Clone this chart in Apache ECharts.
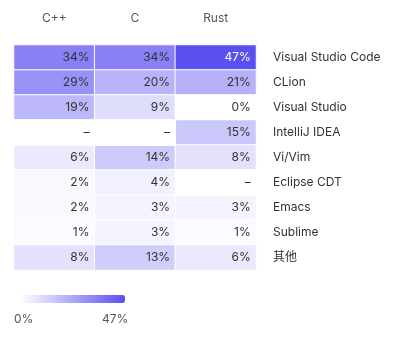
<!DOCTYPE html>
<html>
<head>
<meta charset="utf-8">
<script src="https://cdn.jsdelivr.net/npm/echarts@6/dist/echarts.min.js"></script>
<style>
  html, body { margin: 0; padding: 0; background: #fff; }
  #chart { width: 398px; height: 340px; }
</style>
</head>
<body>
<div id="chart"></div>
<script>
// 语言（列）与编辑器（行）
const languages = ['C++', 'C', 'Rust']
const editors = ['Visual Studio Code', 'CLion', 'Visual Studio', 'IntelliJ IDEA', 'Vi/Vim', 'Eclipse CDT', 'Emacs', 'Sublime', '其他']
// 每列的百分比，null 表示没有数据（显示为 –）
const cppValues = [34, 29, 19, null, 6, 2, 2, 1, 8]
const cValues = [34, 20, 9, null, 14, 4, 3, 3, 13]
const rustValues = [47, 21, 0, 15, 8, null, 3, 1, 6]
const rangeLabels = ['0%', '47%']

const columns = [cppValues, cValues, rustValues]
const cells = []
const missing = []
columns.forEach((col, x) => {
  col.forEach((v, y) => {
    if (v === null) missing.push([x, y, 0])
    else cells.push([x, y, v])
  })
})

const font = 'Inter, "Noto Sans CJK SC", sans-serif'
const myChart = echarts.init(document.getElementById('chart'))
const option = {
  textStyle: { fontFamily: font },
  grid: { left: 14, right: 142, top: 45, bottom: 70 },
  xAxis: {
    type: 'category',
    data: languages,
    position: 'top',
    axisLine: { show: false },
    axisTick: { show: false },
    axisLabel: { color: '#555', fontSize: 12, margin: 21, fontFamily: font }
  },
  yAxis: {
    type: 'category',
    data: editors,
    inverse: true,
    position: 'right',
    axisLine: { show: false },
    axisTick: { show: false },
    axisLabel: { color: '#333', fontSize: 12, margin: 17, fontFamily: font }
  },
  visualMap: {
    type: 'continuous',
    min: 0,
    max: 47,
    seriesIndex: 0,
    orient: 'horizontal',
    left: 6,
    top: 280,
    itemWidth: 8,
    itemHeight: 104,
    calculable: false,
    text: ['', ''],
    showLabel: false,
    inRange: { color: ['#ffffff', '#5a4ff0'] }
  },
  graphic: [
    { type: 'text', left: 14, top: 313, style: { text: rangeLabels[0], fill: '#555', font: '12px ' + font } },
    { type: 'text', left: 102, top: 313, style: { text: rangeLabels[1], fill: '#555', font: '12px ' + font } }
  ],
  series: [
    {
      type: 'heatmap',
      data: cells,
      itemStyle: { borderColor: '#fff', borderWidth: 1 },
      label: {
        show: true,
        position: 'insideRight',
        distance: 6,
        fontSize: 12,
        fontFamily: font,
        color: '#333',
        formatter: p => p.value[2] + '%'
      },
      emphasis: { disabled: true }
    },
    {
      type: 'heatmap',
      data: missing,
      itemStyle: { color: '#fff', borderColor: '#fff', borderWidth: 1 },
      label: {
        show: true,
        position: 'insideRight',
        distance: 6,
        fontSize: 12,
        fontFamily: font,
        color: '#333',
        formatter: '–'
      },
      emphasis: { disabled: true }
    }
  ]
}
myChart.setOption(option)
// 最大值那一格用白字
myChart.setOption({
  series: [{
    data: cells.map(c => c[2] === 47 ? { value: c, label: { color: '#fff' } } : c)
  }]
})
</script>
</body>
</html>
